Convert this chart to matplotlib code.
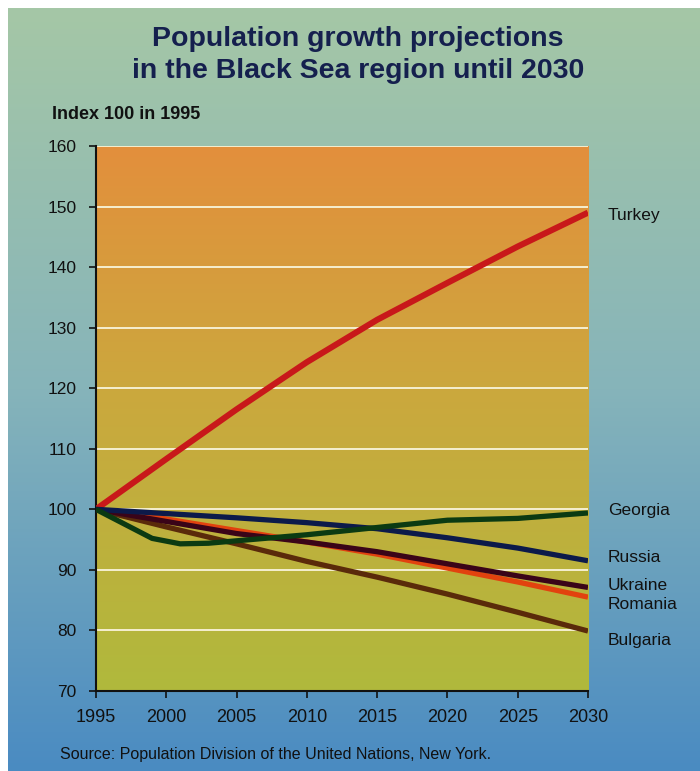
import numpy as np
import matplotlib
matplotlib.use("Agg")
from matplotlib import pyplot as plt
from matplotlib.colors import LinearSegmentedColormap

plt.rcParams['font.family'] = ['Liberation Sans', 'DejaVu Sans']

years = [1995, 2000, 2005, 2010, 2015, 2020, 2025, 2030]
turkey = [100, 108.3, 116.5, 124.3, 131.3, 137.4, 143.4, 149.0]
russia = [100, 99.3, 98.6, 97.8, 96.8, 95.3, 93.6, 91.5]
ukraine = [100, 98.0, 96.0, 94.6, 93.0, 91.0, 89.0, 87.1]
romania = [100, 98.4, 96.5, 94.6, 92.6, 90.3, 88.0, 85.5]
bulgaria = [100, 97.1, 94.3, 91.4, 88.8, 86.0, 83.0, 79.9]
georgia_years = [1995, 1997, 1999, 2001, 2003, 2005, 2010, 2015, 2020, 2025, 2030]
georgia = [100, 97.6, 95.2, 94.3, 94.4, 94.8, 95.8, 97.0, 98.2, 98.5, 99.4]

labels = ['Turkey', 'Georgia', 'Russia', 'Ukraine', 'Romania', 'Bulgaria']
label_y = [148.6, 99.8, 92.1, 87.4, 84.3, 78.3]

fig = plt.figure(figsize=(7, 7.71), dpi=100)

# figure background: green at top to blue at bottom, white strip top/left
bg = fig.add_axes([0.0114, 0, 0.9886, 0.9896])
bg_cmap = LinearSegmentedColormap.from_list(
    'bg', [(0, '#a5c7a6'), (0.5, '#86b4ba'), (1, '#4a8bc2')])
bg.imshow(np.linspace(0, 1, 256).reshape(-1, 1), cmap=bg_cmap, aspect='auto',
          extent=[0, 1, 0, 1], origin='upper')
bg.axis('off')

ax = fig.add_axes([0.137, 0.1038, 0.703, 0.7068])
ax.set_facecolor('none')
plot_cmap = LinearSegmentedColormap.from_list(
    'pl', [(0, '#e38f3c'), (0.45, '#cba83e'), (1, '#b0b93c')])
ax.imshow(np.linspace(0, 1, 256).reshape(-1, 1), cmap=plot_cmap, aspect='auto',
          extent=[1995, 2030, 70, 160], origin='upper', zorder=0)

for v in range(80, 161, 10):
    ax.axhline(v, color='#f5efd0', lw=1.4, zorder=1)

lw = 3.8
ax.plot(years, turkey, color='#c8181a', lw=4.4, solid_capstyle='butt', zorder=3)
ax.plot(years, bulgaria, color='#5a2a0a', lw=lw, solid_capstyle='butt', zorder=3)
ax.plot(years, romania, color='#e2420e', lw=lw, solid_capstyle='butt', zorder=3)
ax.plot(years, ukraine, color='#3a0418', lw=lw, solid_capstyle='butt', zorder=3)
ax.plot(years, russia, color='#0c1a4a', lw=lw, solid_capstyle='butt', zorder=3)
ax.plot(georgia_years, georgia, color='#0b3a12', lw=lw, solid_capstyle='butt', zorder=4)

ax.set_xlim(1995, 2030)
ax.set_ylim(70, 160)
ax.set_xticks(years)
ax.set_yticks(range(70, 161, 10))
ax.tick_params(length=5, width=1.2, color='#111111', labelcolor='#111111')
ax.tick_params(axis='x', pad=8, labelsize=13)
ax.tick_params(axis='y', pad=9, labelsize=12.5)
for s in ['top', 'right']:
    ax.spines[s].set_visible(False)
for s in ['left', 'bottom']:
    ax.spines[s].set_linewidth(1.5)
    ax.spines[s].set_color('#111111')

for name, y in zip(labels, label_y):
    ax.text(1.04, y, name, transform=ax.get_yaxis_transform(), fontsize=12.5,
            color='#111111', va='center', ha='left', linespacing=0.9)

fig.text(0.511, 0.929, 'Population growth projections\nin the Black Sea region until 2030',
         ha='center', va='center', fontsize=20.5, fontweight='bold', color='#15204e',
         linespacing=1.3)
fig.text(0.074, 0.851, 'Index 100 in 1995', fontsize=13, fontweight='bold',
         color='#111111', va='center')
fig.text(0.086, 0.022, 'Source: Population Division of the United Nations, New York.',
         fontsize=11.5, color='#111111', va='center')

fig.savefig('out.png', dpi=100)
